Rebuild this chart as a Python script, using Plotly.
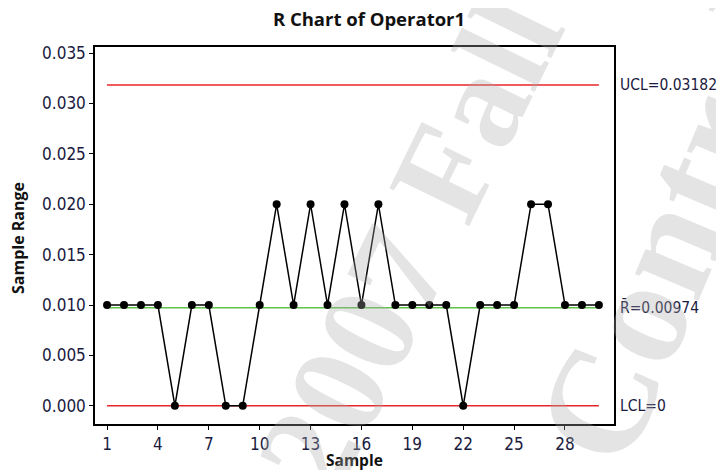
import plotly.graph_objects as go

samples = list(range(1, 31))
ranges = [0.010, 0.010, 0.010, 0.010, 0.000, 0.010, 0.010, 0.000, 0.000, 0.010,
          0.020, 0.010, 0.020, 0.010, 0.020, 0.010, 0.020, 0.010, 0.010, 0.010,
          0.010, 0.000, 0.010, 0.010, 0.010, 0.020, 0.020, 0.010, 0.010, 0.010]
ucl = 0.03182
rbar = 0.00974
lcl = 0.0
x_ticks = [1, 4, 7, 10, 13, 16, 19, 22, 25, 28]
y_ticks = [0.000, 0.005, 0.010, 0.015, 0.020, 0.025, 0.030, 0.035]

# page body has an 8px default margin; figure sized to fill the rest
OFF = 8
W, H = 724 - OFF, 470 - OFF
L, R, T, B = 95 - OFF, 110, 47 - OFF, 46
pw, ph = W - L - R, H - T - B

def px(x):
    return (x - OFF - L) / pw

def py(y):
    return (OFF + H - B - y) / ph

tick_font = dict(family="DejaVu Sans Condensed, DejaVu Sans, sans-serif", size=17, color="#1a1a40")

fig = go.Figure()
xs = [samples[0], samples[-1]]
fig.add_trace(go.Scatter(x=xs, y=[ucl, ucl], mode="lines", line=dict(color="#e8262a", width=1.5), hoverinfo="skip"))
fig.add_trace(go.Scatter(x=xs, y=[lcl, lcl], mode="lines", line=dict(color="#e8262a", width=1.5), hoverinfo="skip"))
fig.add_trace(go.Scatter(x=xs, y=[rbar, rbar], mode="lines", line=dict(color="#5fc24a", width=1.5), hoverinfo="skip"))
fig.add_trace(go.Scatter(x=samples, y=ranges, mode="lines+markers",
                         line=dict(color="black", width=1.5),
                         marker=dict(color="black", size=8)))

label_font = dict(family="DejaVu Sans Condensed, DejaVu Sans, sans-serif", size=15.5, color="#1a1a40")
for val, txt in [(ucl, "UCL=0.03182"), (rbar, "R\u0304=0.00974"), (lcl, "LCL=0")]:
    fig.add_annotation(x=1.0, xref="paper", y=val, yref="y", text=txt, showarrow=False,
                       xanchor="left", yanchor="middle", xshift=4, font=label_font)

# axis titles
title_font = dict(family="Open Sans, sans-serif", color="#111111")
fig.add_annotation(x=px(354), y=py(460), xref="paper", yref="paper", text="<b>Sample</b>",
                   showarrow=False, xanchor="center", yanchor="middle", font=dict(title_font, size=15.5))
fig.add_annotation(x=px(18), y=py(238), xref="paper", yref="paper", text="<b>Sample Range</b>",
                   showarrow=False, textangle=-90, xanchor="center", yanchor="middle",
                   font=dict(title_font, size=16))

# watermark
wm_font = dict(family="Liberation Serif, serif", size=135, color="rgba(170,170,170,0.32)")
fig.add_annotation(x=px(410), y=py(245), xref="paper", yref="paper", text="<b>2007 Fall</b>",
                   showarrow=False, textangle=-64, xanchor="center", yanchor="middle", font=wm_font)
fig.add_annotation(x=px(675), y=py(225), xref="paper", yref="paper", text="<b>Control</b>",
                   showarrow=False, textangle=-67, xanchor="center", yanchor="middle",
                   font=dict(wm_font, size=150))

fig.update_layout(
    width=W, height=H,
    margin=dict(l=L, r=R, t=T, b=B),
    paper_bgcolor="white", plot_bgcolor="white",
    showlegend=False,
    title=dict(text="<b>R Chart of Operator1</b>", x=px(369), xref="paper", xanchor="center",
               y=1 - (20 - OFF) / H, yref="container", yanchor="middle",
               font=dict(title_font, size=18.5)),
    xaxis=dict(range=[0.29, 30.89], tickvals=x_ticks, ticks="outside", ticklen=4, tickwidth=1.2,
               tickcolor="black", showline=True, linecolor="black", linewidth=1.5, mirror=True,
               showgrid=False, zeroline=False, tickfont=tick_font, automargin=False),
    yaxis=dict(range=[-0.0018, 0.0356], tickvals=y_ticks, tickformat=".3f", ticks="outside", ticklen=4,
               tickwidth=1.2, tickcolor="black", showline=True, linecolor="black", linewidth=1.5,
               mirror=True, showgrid=False, zeroline=False, tickfont=tick_font, automargin=False),
)

fig.write_html("out.html")
